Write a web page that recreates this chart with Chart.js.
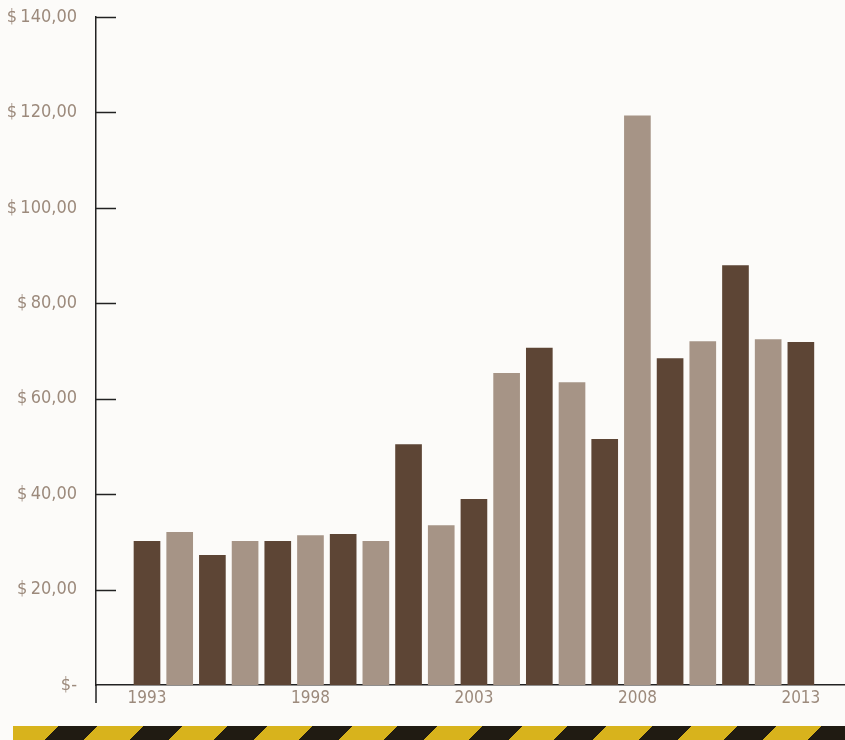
<!DOCTYPE html>
<html>
<head>
  <title>Price by year</title>
  <script src="https://cdn.jsdelivr.net/npm/chart.js"></script>
  <style>
    body { margin: 0; background: #fcfbf9; }
    #wrap { position: relative; width: 845px; height: 740px; }
    #stripe {
      position: absolute; left: 13px; top: 726px; width: 832px; height: 14px;
      background: repeating-linear-gradient(135deg, #d8b31c 0 32px, #201b12 32px 60px);
    }
  </style>
</head>
<body>
  <div id="wrap">
    <canvas id="chart" width="845" height="720"></canvas>
    <div id="stripe"></div>
  </div>
  <script>
    // values
    const years = [1993, 1994, 1995, 1996, 1997, 1998, 1999, 2000, 2001, 2002, 2003,
                   2004, 2005, 2006, 2007, 2008, 2009, 2010, 2011, 2012, 2013];
    const prices = [30.1, 32.0, 27.2, 30.1, 30.1, 31.3, 31.6, 30.1, 50.4, 33.4, 38.9,
                    65.3, 70.6, 63.4, 51.5, 119.3, 68.4, 72.0, 87.9, 72.4, 71.8];
    const yearTicks = [1993, 1998, 2003, 2008, 2013];
    const dark = '#5d4535', light = '#a69486';

    const points = years.map((y, i) => ({ x: y, y: prices[i] }));
    const colors = years.map((y, i) => i % 2 === 0 ? dark : light);

    function money(v) {
      if (v === 0) return '$-';
      return '$\u2009' + v.toFixed(2).replace('.', ',');
    }

    // short inward ticks on the y axis, and the axis running a bit below zero
    const innerTicks = {
      id: 'innerTicks',
      afterDraw(chart) {
        const { ctx, chartArea, scales } = chart;
        ctx.save();
        ctx.strokeStyle = '#222';
        ctx.lineWidth = 1.5;
        scales.y.ticks.forEach(t => {
          if (t.value === 0) return;
          const py = Math.round(scales.y.getPixelForValue(t.value)) + 0.5;
          ctx.beginPath();
          ctx.moveTo(chartArea.left, py);
          ctx.lineTo(chartArea.left + 20, py);
          ctx.stroke();
        });
        ctx.beginPath();
        ctx.moveTo(chartArea.left, chartArea.bottom);
        ctx.lineTo(chartArea.left, chartArea.bottom + 18);
        ctx.stroke();
        ctx.restore();
      }
    };

    Chart.defaults.font.family = "'DejaVu Sans Condensed', 'Liberation Sans Narrow', sans-serif";

    new Chart(document.getElementById('chart'), {
      type: 'bar',
      data: {
        datasets: [{
          data: points,
          backgroundColor: colors,
          barThickness: 26
        }]
      },
      options: {
        responsive: false,
        animation: false,
        layout: { padding: { top: 17, right: 0 } },
        plugins: { legend: { display: false }, tooltip: { enabled: false } },
        scales: {
          x: {
            type: 'linear',
            offset: false,
            bounds: 'data',
            min: 1991.44,
            max: 2014.35,
            afterBuildTicks: s => { s.ticks = yearTicks.map(v => ({ value: v })); },
            afterFit: s => { s.height = 35; s.paddingLeft = 0; s.paddingRight = 0; },
            grid: { display: false, drawTicks: false },
            border: { display: true, color: '#222', width: 1.5 },
            ticks: {
              padding: 3,
              color: '#9c8a7c',
              font: { size: 17 },
              callback: v => String(v)
            }
          },
          y: {
            min: 0,
            max: 140,
            afterFit: s => { s.width = 96; s.paddingTop = 0; s.paddingBottom = 0; },
            grid: { display: false, drawTicks: false },
            border: { display: true, color: '#222', width: 1.5 },
            ticks: {
              stepSize: 20,
              padding: 19,
              color: '#9c8a7c',
              font: { size: 18 },
              callback: v => money(v)
            }
          }
        }
      },
      plugins: [innerTicks]
    });
  </script>
</body>
</html>
